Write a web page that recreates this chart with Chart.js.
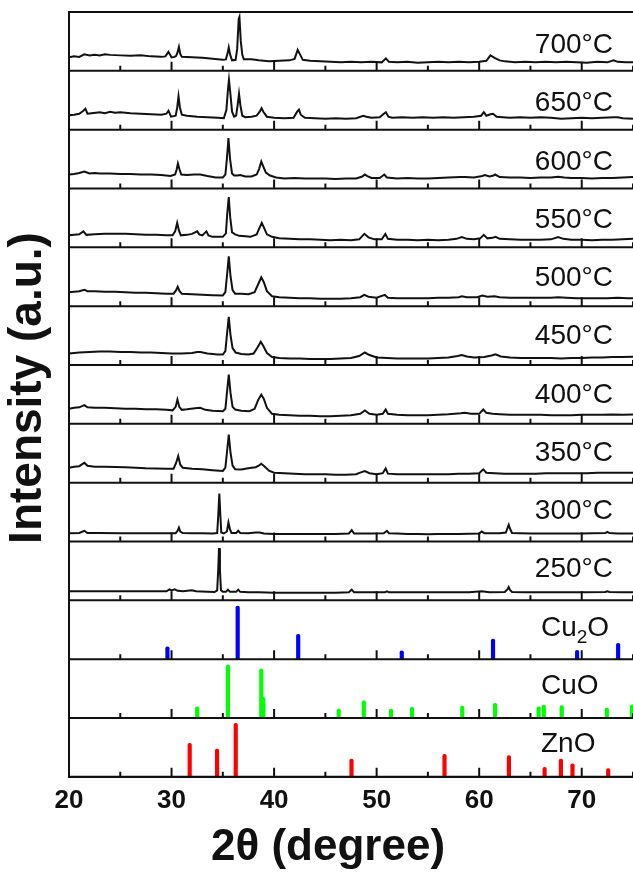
<!DOCTYPE html>
<html>
<head>
<meta charset="utf-8">
<script src="https://cdn.jsdelivr.net/npm/chart.js@4/dist/chart.umd.min.js"></script>
<style>
  html, body { margin: 0; padding: 0; background: #fff; overflow: hidden; }
  #wrap { width: 633px; height: 874px; }
</style>
</head>
<body>
<div id="wrap"><canvas id="xrd"></canvas></div>
<script>
// 2-theta tick marks
const xMajor = [20, 30, 40, 50, 60, 70];
const xMinor = [25, 35, 45, 55, 65, 75];

// panel labels, top to bottom
const tempLabels = ["700°C", "650°C", "600°C", "550°C", "500°C", "450°C", "400°C", "350°C", "300°C", "250°C"];
const phaseLabels = ["Cu|2|O", "CuO", "ZnO"];

// measured patterns, [2theta, intensity]
const t700 = [[20,13.5],[20.5,14.5],[21,14],[21.5,16.5],[22,15.5],[22.5,16],[23,15.5],[23.5,16.5],[24,16],[25,15.5],[26,15],[27,15.5],[28,14.5],[29,14],[29.4,14.5],[29.7,19],[30,13.5],[30.3,14],[30.45,15],[30.6,19],[30.72,24],[30.85,17],[31,14],[32,13.5],[33,13],[34,12],[35,11],[35.3,11.5],[35.45,17],[35.58,23.5],[35.72,16],[35.9,10.5],[36.25,11],[36.4,22],[36.55,52],[36.62,54],[36.75,30],[36.9,16],[37.05,11.5],[37.8,11.5],[38.5,10.5],[39.5,9.5],[40.5,10],[41.5,10.5],[42,12],[42.3,21],[42.5,17],[42.8,11],[43.5,10],[44.5,9.5],[45.5,9],[46.5,8.5],[47.5,9],[48.5,8.5],[49.5,9],[50.5,8.5],[50.9,12.5],[51.2,9],[52,8.5],[53,9],[54,8],[55,8.5],[56,9],[57,8.5],[58,9],[59,8.5],[60,9],[60.7,10],[61.1,15.5],[61.5,13],[62,10.5],[62.5,9.5],[63.5,8.5],[64.5,9],[65.5,8.5],[66.5,9],[67.5,8.5],[68.5,9],[69.5,8.5],[70.5,8],[71.5,9],[72.5,8.5],[73.1,10.5],[73.5,9],[74.3,8.5],[75,8.5]];
const t650 = [[20,14.5],[20.5,15],[21,16],[21.4,19],[21.6,21],[21.8,16],[22.2,16.5],[23,17.5],[23.5,16.5],[24,18],[24.5,17],[25,17.5],[26,16.5],[27,16],[28,15.5],[29,15],[29.5,16],[29.7,19],[29.95,13],[30.4,14],[30.55,22],[30.68,33.5],[30.82,22],[31,15],[31.5,14],[32.5,13],[33.5,12.5],[34.5,12],[35.1,11.5],[35.35,20],[35.5,40],[35.6,50],[35.72,38],[35.9,18],[36.1,13],[36.3,14],[36.45,25],[36.58,36],[36.72,24],[36.9,14],[37.2,12.5],[37.8,13],[38.3,14],[38.6,18],[38.78,21.5],[38.95,18],[39.3,13],[40,12],[41,11.5],[41.9,12],[42.25,18],[42.42,20],[42.6,15],[43,12],[44,11.5],[45,11],[46,11.5],[47,11],[48,11.5],[48.7,14],[49,13],[49.5,12],[50.3,12.5],[50.7,16],[50.9,17.5],[51.15,13],[51.5,12],[52.5,12.5],[53.5,12],[54.5,12.5],[55.5,12],[56.5,12.5],[57.5,12],[58.5,12.5],[59.5,13],[60.2,14],[60.45,17.5],[60.7,14],[61.1,15.5],[61.35,16],[61.7,13],[62.3,12.5],[63,12],[64,12.5],[65,12],[66,12.5],[67,12],[68,11],[69,11.5],[70,12],[71,11.5],[72,12],[73.2,12.5],[73.5,12.5],[74,11.5],[75,11]];
const t600 = [[20,14],[20.5,14.5],[21,15.5],[21.5,17],[22,15],[22.5,15.5],[23,15],[24,15],[25,14.5],[26,14.5],[27,14],[28,14],[29,13.5],[29.9,12.5],[30.35,14],[30.5,19],[30.62,25],[30.78,19],[30.95,14],[31.5,13.5],[32.2,14],[32.8,14],[33.5,12.5],[34.3,11],[35,11],[35.25,14],[35.4,30],[35.55,50.5],[35.7,30],[35.9,15],[36.1,13],[36.4,13],[36.7,13.5],[37.2,12],[37.8,12],[38.3,14],[38.55,20],[38.75,27],[38.95,22],[39.2,16],[39.6,13],[40.2,11],[41,10],[42,10.5],[43,10],[44,10],[45,10],[46,9.5],[47,10],[48,10],[48.6,12],[48.85,14],[49.1,12.5],[49.5,10.5],[50.3,10.5],[50.75,14],[51,11],[52,10],[53,10.5],[54,10],[55,10],[56,10.5],[57,11],[58.2,11.5],[58.6,11.5],[59.5,11],[60.3,12.5],[60.55,13.5],[61,12],[61.4,13],[61.55,14],[62,11.5],[63,11],[64,11],[65,10.5],[66,11],[67,11],[67.7,11.7],[68.3,11],[69,10.5],[70,10.5],[71,10],[72,10.5],[73,10.5],[74,11],[75,11.5]];
const t550 = [[20,12],[20.5,12.5],[21,13],[21.4,16],[21.7,12.5],[22.5,13],[23.5,13.5],[24.5,13.5],[25.5,13.5],[26.5,13],[27.5,12.5],[28.5,12.5],[29.5,12],[30.1,12],[30.35,16],[30.55,24.5],[30.72,17],[30.9,12],[31.5,12.5],[32,13.5],[32.5,16],[32.7,13],[33,12],[33.4,16],[33.6,12],[34,10.5],[35,10.5],[35.3,14],[35.42,32],[35.58,50.5],[35.72,30],[35.9,15],[36.2,13],[36.6,11.5],[37.2,11],[37.7,10.5],[38.3,13],[38.6,20],[38.8,24.5],[39,20],[39.3,13],[39.8,10.5],[40.5,9],[41.5,8.5],[42.5,8],[43.5,8],[44.5,7.5],[45.5,7],[46.5,7.5],[47.5,7],[48.3,8],[48.8,13.5],[49.2,10],[49.8,8],[50.5,8],[50.85,13.5],[51.1,8.5],[52,7.5],[53,7.5],[54,7],[55,7.5],[56,7],[57,7.5],[57.8,8.5],[58.3,10.3],[58.8,8.5],[59.5,8],[60.1,9],[60.45,12.5],[60.8,9],[61.3,9.5],[61.6,10.5],[62,8.5],[63,8],[64,7.5],[65,7.5],[66,7.5],[67,8],[67.7,10.3],[68.2,8.5],[69,7.5],[70,7.5],[71,7],[72,7.5],[73,7.5],[74,8],[75,8.5]];
const t500 = [[20,14],[20.5,14.5],[21,15],[21.5,16.5],[21.8,15],[22.5,15],[23.5,14.5],[24.5,14.5],[25.5,14],[26.5,13.5],[27.5,13.5],[28.5,13],[29.5,12.5],[30.2,12.5],[30.45,16],[30.6,19.5],[30.78,15],[31,12.5],[32,12],[33,11.5],[34,11],[35,10.7],[35.25,14],[35.42,32],[35.58,50],[35.75,30],[35.95,16],[36.2,12.5],[36.8,12.5],[37.5,12],[38.1,14],[38.45,22],[38.75,29],[39,24],[39.3,15],[39.8,10],[40.5,9],[41.5,8.5],[42.5,8],[43.5,8],[44.5,7.5],[45.5,7.5],[46.5,7.5],[47.5,8],[48.4,9],[48.8,11.3],[49.2,9.5],[50,8.5],[50.8,11.3],[51.1,8.5],[52,8],[53,8],[54,8],[55,8],[56,8.5],[57,8.5],[58,9],[58.3,10],[58.8,9],[59.8,9],[60.3,10.7],[60.8,9.5],[61.5,10],[62,9],[63,8.5],[64,8.5],[65,8.5],[66,8.5],[67,8.5],[67.7,9],[68.5,8.5],[69.5,8],[70.5,8],[71.5,8],[72.5,8],[73.5,8.5],[74.5,8],[75,8]];
const t450 = [[20,11.5],[20.5,12],[21,12.5],[22,13],[23,13.5],[24,13.5],[25,13],[26,13],[27,12.5],[28,12.5],[29,12],[30,11.5],[31,11.5],[32,12],[32.5,13],[32.8,13],[33.5,11.5],[34.5,10.5],[35,10.5],[35.25,14],[35.4,30],[35.58,48.3],[35.75,30],[35.95,17],[36.25,12.5],[36.8,11],[37.5,10.5],[38,11.5],[38.35,17],[38.7,23.3],[38.95,19],[39.3,12],[39.8,8],[40.5,7],[41.5,6.5],[42.5,6.5],[43.5,6],[44.5,6],[45.5,6],[46.5,6.5],[47.5,7],[48.3,9],[48.85,12.5],[49.3,10],[50,7.5],[51,7],[52,6.5],[53,6.5],[54,6.5],[55,6.5],[56,7],[57,7.5],[57.9,9],[58.3,10],[58.8,8.5],[59.5,7.5],[60.5,8],[61.2,9.5],[61.6,10.7],[62.1,8.5],[63,7.5],[64,7],[65,7],[66,7],[67,7],[68,6.5],[69,7],[70,7],[71,7.5],[72,7.5],[73,8],[74,8],[75,8.3]];
const t400 = [[20,15],[20.5,16],[21,16.5],[21.5,18.7],[21.8,16.5],[22.5,16],[23.5,16],[24.5,15.5],[25.5,15],[26.5,15],[27.5,14.5],[28.5,14.5],[29.5,14],[30.1,13.5],[30.4,17],[30.57,24.3],[30.75,17],[31,14],[31.5,14.5],[32.3,15.5],[32.8,16],[33.3,14],[34,13],[35,12.7],[35.25,15],[35.42,33],[35.58,49.3],[35.75,31],[35.95,17],[36.2,14.3],[36.8,13],[37.6,12.7],[38.1,15],[38.45,24],[38.75,29.3],[39,25],[39.3,16],[39.8,10],[40.5,9],[41.5,8.5],[42.5,8],[43.5,8],[44.5,7.7],[45.5,7.7],[46.5,8],[47.5,8.5],[48.4,10],[48.85,13.3],[49.3,10],[50,9],[50.6,10],[50.88,14.3],[51.1,10],[52,9],[53,8.7],[54,8.7],[55,8.7],[56,9],[57,9.5],[58.2,10.5],[58.6,11],[59.2,10],[60,10],[60.4,14.3],[60.7,11],[61.3,10],[62,9.5],[63,9],[64,9],[65,9],[66,9],[67,8.7],[68,8.7],[69,8.7],[70,9],[71,9],[72,9],[73,9.3],[74,9],[75,9.3]];
const t350 = [[20,15],[20.5,16],[21,16.5],[21.5,20],[21.8,17],[22.5,16],[23.5,16],[24.5,15.7],[25.5,15.5],[26.5,15],[27.5,14.5],[28.5,14.3],[29.5,14],[30.2,14],[30.45,20],[30.65,26.7],[30.85,18],[31.1,15],[32,14],[33,13.5],[34,12.5],[35,11.7],[35.25,15],[35.42,32],[35.58,48.3],[35.75,30],[35.95,17],[36.2,13.5],[36.8,13.3],[37.5,14.5],[37.8,15],[38.2,15.5],[38.5,17],[38.75,19],[39.1,16],[39.5,12],[40,10],[41,9.5],[42,9],[43,8.5],[44,8.5],[45,8.3],[46,8],[47,8],[48,8.5],[48.4,10],[48.85,11.7],[49.3,9.5],[50,8.5],[50.6,9.5],[50.88,14.3],[51.1,9],[52,8.3],[53,8.3],[54,8.3],[55,8.3],[56,8.5],[57,8.5],[58,9],[59,9],[60,9.5],[60.4,13.3],[60.7,10],[61.5,9.5],[62.5,9],[63.5,9],[64.5,9],[65.5,9],[66.5,9.5],[67.5,9.5],[68.5,9.5],[69.5,9.5],[70.5,9.5],[71.5,10],[72.5,10],[73.5,10],[74.5,10],[75,10]];
const t300 = [[20,8.3],[21,8.5],[21.5,10.7],[21.8,8.5],[23,8.5],[25,8.3],[27,8.3],[29,8.3],[30.4,8.3],[30.6,11],[30.72,14],[30.85,10],[31.1,8.5],[32,8.3],[33,8.3],[34,8.1],[34.45,8.5],[34.55,25],[34.66,48],[34.75,28],[34.85,9],[35.1,8],[35.4,10],[35.55,19],[35.7,12],[35.85,8.5],[36.3,8.5],[36.5,10.7],[36.7,8.5],[37.5,8.3],[38.2,9],[38.6,9],[39,8],[40,7.5],[41,7.5],[42,7.5],[43,7.5],[44,7.5],[45,7.5],[46,7.5],[47.3,8],[47.57,11.3],[47.8,8],[48.5,8],[49.5,8],[50.7,8.3],[51,10.7],[51.2,8.3],[52,8],[53,7.5],[54,7.5],[55,7.3],[56,7.5],[57,7.5],[58,7.5],[59,7.8],[60,8],[60.25,10],[60.5,8.3],[61,8.3],[62,8.3],[62.6,9],[62.78,14],[62.88,16.7],[63,13],[63.2,8.5],[64,8.3],[65,8],[66,8],[67,8],[68,8],[69,8],[70,8],[71,8.3],[72.3,8.5],[72.5,9.7],[72.7,8.5],[73.5,8],[74.5,8],[75,8]];
const t250 = [[20,9],[21,9],[22,9],[23,9],[25,9],[27,9],[29,9],[29.5,9],[29.8,11],[30,10],[30.3,11],[30.6,9.5],[31.1,9],[31.97,10],[32.4,9],[33.5,8.5],[34.2,8.3],[34.45,10],[34.55,30],[34.63,52.3],[34.72,30],[34.82,10],[35,8.5],[35.3,8.5],[35.5,10.7],[35.7,8.5],[36.3,8.5],[36.5,10.7],[36.7,8.5],[37.5,8],[38.5,8],[40,7.7],[42,7.7],[44,7.7],[46,7.7],[47.3,8],[47.57,10.7],[47.8,8],[49,8],[50.8,8],[51,9],[51.2,8],[53,8],[55,8],[57,8],[59,8],[60.25,9],[61,8],[62.5,8.3],[62.75,11],[62.88,13.3],[63,10.5],[63.2,8.3],[64.5,8],[66,8],[68,8],[70,8],[72.3,8.3],[72.5,9],[72.7,8.3],[74,8],[75,8]];

// reference patterns, [2theta, relative intensity %]
const cu2oLines = [[29.6,21],[36.45,90],[42.35,42],[52.45,14],[61.35,34],[69.55,15],[73.55,27]];
const cuoLines = [[32.5,19],[35.5,90],[38.75,83],[38.95,35],[46.3,15],[48.75,29],[51.4,15],[53.45,18],[58.35,20],[61.55,25],[65.8,19],[66.3,22],[68.05,21],[72.45,17],[74.9,22]];
const znoLines = [[31.77,57],[34.44,47],[36.26,91],[47.55,30],[56.62,38],[62.9,36],[66.38,16],[67.97,30],[69.1,22],[72.58,14]];

const traces = [t700, t650, t600, t550, t500, t450, t400, t350, t300, t250];
const sticks = [
  { data: cu2oLines, color: "#0000ff" },
  { data: cuoLines,  color: "#00ff00" },
  { data: znoLines,  color: "#ff0000" },
];

const FONT = "'Liberation Sans', Arial, sans-serif";
const panelIds = [];
for (let i = 0; i < traces.length + sticks.length; i++) panelIds.push("p" + i);

const scales = {
  x: {
    type: "linear", min: 20, max: 75, offset: false,
    grid: { display: false },
    border: { display: true, color: "#111", width: 2 },
    ticks: { stepSize: 10, padding: 0, color: "#111", font: { family: FONT, size: 26, weight: "bold" } },
    afterBuildTicks: s => { s.ticks = s.ticks.filter(t => xMajor.includes(t.value)); },
  },
};
// stacked axes are laid out bottom-up, so add the lowest panel first
panelIds.slice().reverse().forEach(id => {
  const i = panelIds.indexOf(id);
  scales[id] = {
    type: "linear", position: "left", stack: "panels", stackWeight: 1,
    min: 0, max: i < traces.length ? 59 : 100,
    grid: { display: false }, border: { display: false }, ticks: { display: false },
    afterFit: s => { s.width = 0; },
  };
});

const datasets = [];
traces.forEach((d, i) => datasets.push({
  type: "line", data: d, yAxisID: panelIds[i],
  borderColor: "#111", borderWidth: 2, pointRadius: 0, tension: 0, fill: false,
}));
sticks.forEach((s, j) => datasets.push({
  type: "bar", data: s.data.map(([x, y]) => ({ x, y })), yAxisID: panelIds[traces.length + j],
  backgroundColor: s.color, barThickness: 3.5, borderRadius: 2, grouped: false,
}));

const panelFrame = {
  id: "panelFrame",
  afterDatasetsDraw(chart) {
    const { ctx, chartArea: a, scales: sc } = chart;
    const x = sc.x;
    ctx.save();
    ctx.strokeStyle = "#111";
    ctx.lineWidth = 2;
    ctx.beginPath();
    ctx.moveTo(a.left, a.bottom); ctx.lineTo(a.left, a.top); ctx.lineTo(a.right, a.top);
    ctx.stroke();

    panelIds.forEach((id, i) => {
      const s = sc[id];
      ctx.lineWidth = 2;
      ctx.beginPath(); ctx.moveTo(a.left, s.bottom); ctx.lineTo(a.right, s.bottom); ctx.stroke();
      ctx.beginPath();
      xMajor.forEach(v => { const px = x.getPixelForValue(v); ctx.moveTo(px, s.bottom); ctx.lineTo(px, s.bottom - 9); });
      xMinor.forEach(v => { const px = x.getPixelForValue(v); ctx.moveTo(px, s.bottom); ctx.lineTo(px, s.bottom - 5); });
      ctx.stroke();

      // labels
      const base = a.top + 41 + i * 58.25;
      ctx.fillStyle = "#111";
      ctx.textBaseline = "alphabetic";
      ctx.font = "28px " + FONT;
      if (i < traces.length) {
        ctx.textAlign = "right";
        ctx.fillText(tempLabels[i], 613, base);
      } else {
        ctx.textAlign = "left";
        const parts = phaseLabels[i - traces.length].split("|");
        let px = 541;
        parts.forEach((p, k) => {
          const sub = k === 1;
          ctx.font = (sub ? "19px " : "28px ") + FONT;
          ctx.fillText(p, px, base + (sub ? 7 : 0));
          px += ctx.measureText(p).width;
        });
      }
    });

    // axis titles
    ctx.font = "bold 44px " + FONT;
    ctx.textAlign = "center";
    ctx.textBaseline = "middle";
    ctx.fillText("2θ (degree)", 328, 848);
    ctx.translate(28, 388);
    ctx.rotate(-Math.PI / 2);
    ctx.font = "bold 46px " + FONT;
    ctx.fillText("Intensity (a.u.)", 0, 0);
    ctx.restore();
  },
};

new Chart(document.getElementById("xrd"), {
  type: "line",
  data: { datasets },
  options: {
    responsive: true, maintainAspectRatio: false, animation: false, events: [],
    layout: { padding: { left: 69, top: 12, right: 0, bottom: 58 } },
    plugins: { legend: { display: false }, tooltip: { enabled: false } },
    scales,
  },
  plugins: [panelFrame],
});
</script>
</body>
</html>
